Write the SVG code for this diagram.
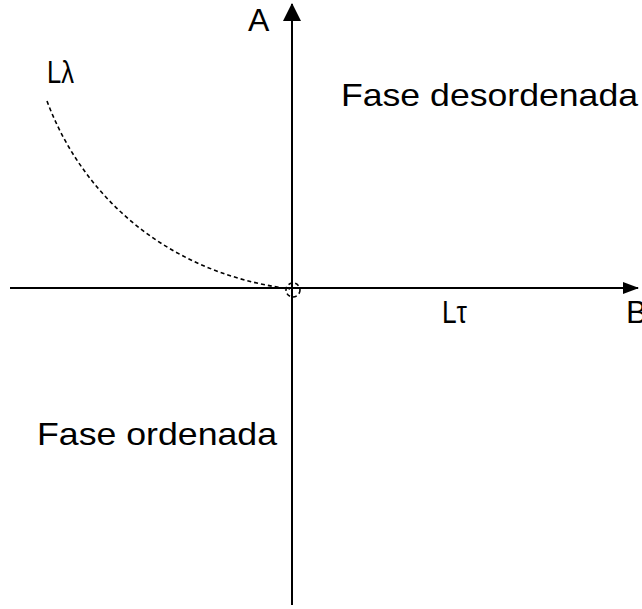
<svg xmlns="http://www.w3.org/2000/svg" width="642" height="609" viewBox="0 0 642 609">
<style>
.axis{stroke:#000;stroke-width:2;fill:none}
.dash{stroke:#000;stroke-width:1.6;fill:none;stroke-dasharray:4 3}
text{font-family:"Liberation Sans",Arial,sans-serif;font-size:32px;fill:#000}
</style>
<defs>
<marker id="arrV" markerWidth="18" markerHeight="20" refX="17" refY="9" orient="auto" markerUnits="userSpaceOnUse" viewBox="0 0 18 18">
<path d="M0,0 L18,9 L0,18 Z" fill="#000"/>
</marker>
<marker id="arrH" markerWidth="16" markerHeight="12" refX="15" refY="6" orient="auto" markerUnits="userSpaceOnUse" viewBox="0 0 16 12">
<path d="M0,0 L16,6 L0,12 Z" fill="#000"/>
</marker>
</defs>
<g id="connectors">
<line class="axis" x1="292" y1="605" x2="292" y2="4" marker-end="url(#arrV)"/>
<line class="axis" x1="10" y1="288" x2="638" y2="288" marker-end="url(#arrH)"/>
<path class="dash" d="M47,101 C80,190 160,272 290,289"/>
<circle class="dash" cx="293" cy="290" r="7"/>
</g>
<g id="label-A"><text x="248" y="31">A</text></g>
<g id="label-Llambda"><text x="47" y="83" textLength="27" lengthAdjust="spacingAndGlyphs">Lλ</text></g>
<g id="label-Ltau"><text x="442" y="323" textLength="25" lengthAdjust="spacingAndGlyphs">Lτ</text></g>
<g id="label-B"><text x="626" y="323">B</text></g>
<g id="label-desordenada"><text x="341" y="106" textLength="297" lengthAdjust="spacingAndGlyphs">Fase desordenada</text></g>
<g id="label-ordenada"><text x="37" y="445" textLength="240" lengthAdjust="spacingAndGlyphs">Fase ordenada</text></g>
</svg>
